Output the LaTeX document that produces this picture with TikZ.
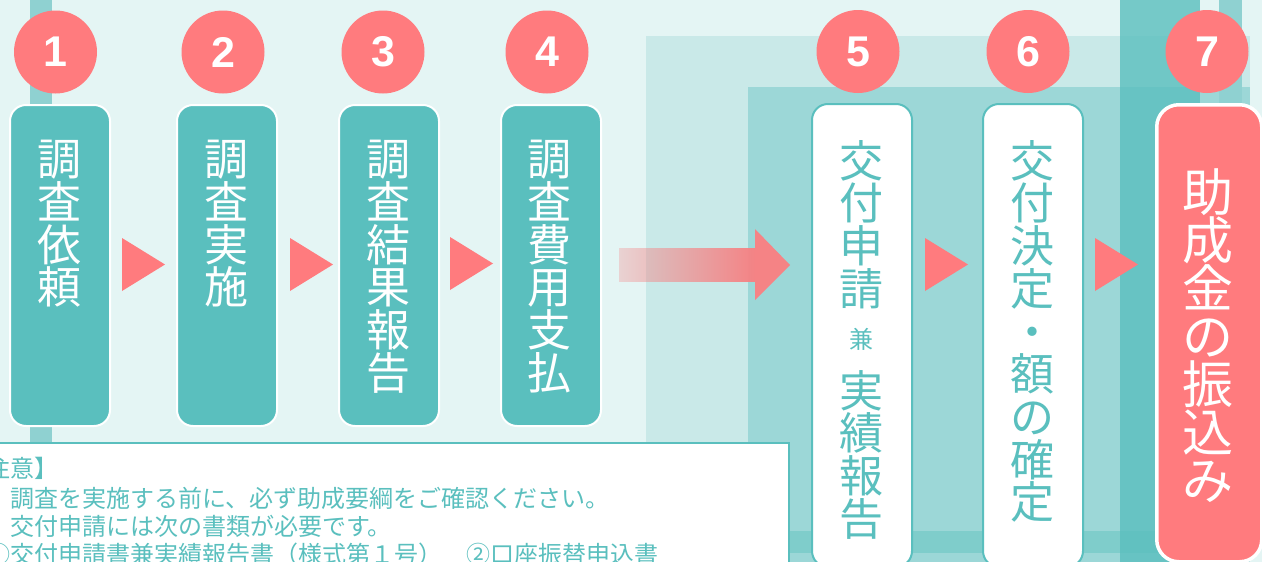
\documentclass[tikz,border=0pt]{standalone}
\usepackage{fontspec}
\setmainfont{Liberation Sans}
\newfontfamily\jpfont{Noto Sans CJK JP}
\usetikzlibrary{fadings}
\definecolor{bgc}{HTML}{E4F5F4}
\definecolor{panelA}{HTML}{C9E9E8}
\definecolor{panelB}{HTML}{9CD7D7}
\definecolor{bandc}{HTML}{7FCDCB}
\definecolor{stripec}{HTML}{8FD1D1}
\definecolor{tealc}{HTML}{5ABFBE}
\definecolor{redc}{HTML}{FF7B7E}
\definecolor{arrowc}{HTML}{F58385}
\tikzfading[name=arrowfade, left color=transparent!70, right color=transparent!0]
\tikzset{
 numcirc/.style={circle, fill=redc, minimum size=83pt, inner sep=0pt, text=white, font=\fontsize{43}{43}\selectfont\bfseries},
 stepbox/.style={draw=white, line width=2pt, fill=tealc, rounded corners=16pt, minimum width=100pt, anchor=north west, inner sep=0pt},
 whitebox/.style={draw=tealc, line width=2pt, fill=white, rounded corners=16pt, minimum width=100pt, anchor=north west, inner sep=0pt},
 goalbox/.style={draw=white, line width=3.5pt, fill=redc, rounded corners=22pt, anchor=north west, inner sep=0pt},
 vtext/.style={anchor=north, inner sep=0pt, align=center, font=\jpfont\fontsize{44}{42.7}\selectfont},
 tri/.style={fill=redc},
 notetext/.style={anchor=base west, inner sep=0pt, text=tealc, font=\jpfont\fontsize{24}{28}\selectfont},
}
\begin{document}
\begin{tikzpicture}[x=1pt,y=-1pt]
\useasboundingbox (0,0) rectangle (1262,562);
\clip (0,0) rectangle (1262,562);
% background panels
\fill[bgc] (0,0) rectangle (1262,562);
\fill[panelA] (646,36) rectangle (1250,562);
\fill[panelB] (748,87) rectangle (1250,562);
\fill[bandc] (748,531) rectangle (1250,553);
\fill[stripec] (30,0) rectangle (52,450);
\fill[stripec] (1219,0) rectangle (1242,110);
\fill[tealc, opacity=0.8] (1120,0) rectangle (1200,562);
% note box
\draw[tealc, line width=2pt, fill=white] (-10,443) rectangle (789,600);
\node[notetext] (n1) at (-38,477) {【注意】};
\node[notetext] (n2) at (10,507) {調査を実施する前に、必ず助成要綱をご確認ください。};
\node[notetext] (n3) at (10,535) {交付申請には次の書類が必要です。};
\node[notetext] (n4) at (-14,563) {①交付申請書兼実績報告書（様式第１号）　②口座振替申込書};
% step boxes
\node[stepbox, minimum height=321pt] (b1) at (9,104) {};
\node[stepbox, minimum height=321pt] (b2) at (176,104) {};
\node[stepbox, minimum height=321pt] (b3) at (338,104) {};
\node[stepbox, minimum height=321pt] (b4) at (500,104) {};
\node[whitebox, minimum height=463pt] (b5) at (811,103) {};
\node[whitebox, minimum height=463pt] (b6) at (982,103) {};
\node[goalbox, minimum width=105pt, minimum height=457pt] (b7) at (1155,103) {};
% circles
\node[numcirc] (c1) at (55.5,52) {1};
\node[numcirc] (c2) at (223,52) {2};
\node[numcirc] (c3) at (383,52) {3};
\node[numcirc] (c4) at (547,52) {4};
\node[numcirc] (c5) at (858,51.5) {5};
\node[numcirc] (c6) at (1028,51.5) {6};
\node[numcirc] (c7) at (1207,51.5) {7};
% triangles
\fill[tri] (122,238) -- (165,264.5) -- (122,291) -- cycle;
\fill[tri] (290,238) -- (333,264.5) -- (290,291) -- cycle;
\fill[tri] (450,237) -- (493,263.5) -- (450,290) -- cycle;
\fill[tri] (925,238) -- (968,264.5) -- (925,291) -- cycle;
\fill[tri] (1095,238) -- (1138,264.5) -- (1095,291) -- cycle;
% big arrow
\fill[arrowc, path fading=arrowfade] (619,248) rectangle (755.5,282);
\fill[arrowc] (755,229) -- (790,265) -- (755,300) -- cycle;
% vertical texts
\node[vtext, text=white] (t1) at (59,140) {調\\査\\依\\頼};
\node[vtext, text=white] (t2) at (226,140) {調\\査\\実\\施};
\node[vtext, text=white] (t3) at (388,140) {調\\査\\結\\果\\報\\告};
\node[vtext, text=white] (t4) at (549.5,140) {調\\査\\費\\用\\支\\払};
\node[vtext, text=tealc] (t5a) at (861,140) {交\\付\\申\\請};
\node[text=tealc, inner sep=0pt, font=\jpfont\fontsize{24}{24}\selectfont] (t5b) at (861,339) {兼};
\node[vtext, text=tealc] (t5c) at (861,370) {実\\績\\報\\告};
\node[vtext, text=tealc] (t6) at (1032,140) {交\\付\\決\\定\\・\\額\\の\\確\\定};
\node[vtext, text=white, font=\jpfont\fontsize{51}{48}\selectfont] (t7) at (1208,168) {助\\成\\金\\の\\振\\込\\み};
\end{tikzpicture}
\end{document}
